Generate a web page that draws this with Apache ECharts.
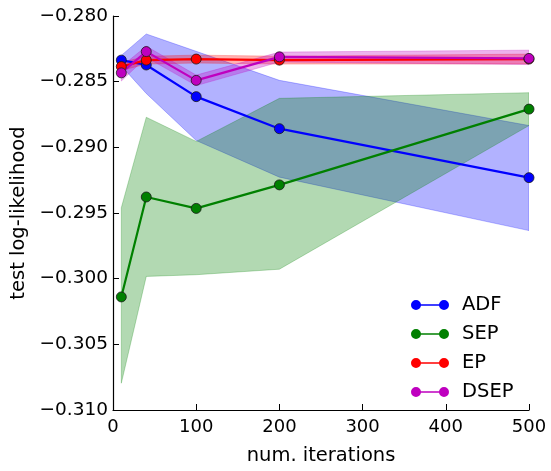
<!DOCTYPE html>
<html>
<head>
<meta charset="utf-8">
<script src="https://cdn.jsdelivr.net/npm/echarts@6/dist/echarts.min.js"></script>
<style>
html,body{margin:0;padding:0;background:#fff;}
#chart{width:551px;height:471px;}
</style>
</head>
<body>
<div id="chart"></div>
<script>
// ---- data ----
var iterations = [10, 40, 100, 200, 500];

var adfMean  = [-0.28336, -0.28373, -0.28614, -0.28858, -0.29231];
var adfUpper = [-0.28300, -0.28137, -0.28269, -0.28490, -0.28834];
var adfLower = [-0.28380, -0.28590, -0.28948, -0.29227, -0.29634];

var sepMean  = [-0.30139, -0.29378, -0.29465, -0.29286, -0.28709];
var sepUpper = [-0.29460, -0.28771, -0.28955, -0.28627, -0.28584];
var sepLower = [-0.30796, -0.29983, -0.29970, -0.29928, -0.28834];

var epMean   = [-0.28385, -0.28336, -0.28328, -0.28336, -0.28328];
var epUpper  = [-0.28355, -0.28306, -0.28298, -0.28306, -0.28290];
var epLower  = [-0.28415, -0.28366, -0.28358, -0.28366, -0.28365];

var dsepMean  = [-0.28433, -0.28271, -0.28490, -0.28311, -0.28323];
var dsepUpper = [-0.28385, -0.28230, -0.28450, -0.28275, -0.28260];
var dsepLower = [-0.28495, -0.28315, -0.28530, -0.28350, -0.28370];

var methodNames = ['ADF', 'SEP', 'EP', 'DSEP'];
var xTicks = [0, 100, 200, 300, 400, 500];
var yTicks = [-0.310, -0.305, -0.300, -0.295, -0.290, -0.285, -0.280];

// ---- styles ----
var FONT = 'DejaVu Sans';
var colors = ['#0000ff', '#008000', '#ff0000', '#bf00bf'];
var bandFill = ['rgba(0,0,255,0.3)', 'rgba(0,128,0,0.3)', 'rgba(255,0,0,0.3)', 'rgba(191,0,191,0.3)'];
var bandEdge = ['rgba(0,0,255,0.25)', 'rgba(0,128,0,0.25)', 'rgba(255,0,0,0.25)', 'rgba(191,0,191,0.25)'];

var means = [adfMean, sepMean, epMean, dsepMean];
var uppers = [adfUpper, sepUpper, epUpper, dsepUpper];
var lowers = [adfLower, sepLower, epLower, dsepLower];

function bandSeries(k) {
  var lo = lowers[k], hi = uppers[k];
  return {
    type: 'custom',
    name: methodNames[k] + ' band',
    silent: true,
    clip: true,
    z: 1,
    data: iterations.map(function (x, i) { return [x, lo[i], hi[i]]; }),
    encode: { x: 0, y: [1, 2] },
    renderItem: function (params, api) {
      if (params.dataIndex !== 0) return null;
      var top = iterations.map(function (x, i) { return api.coord([x, hi[i]]); });
      var bot = iterations.map(function (x, i) { return api.coord([x, lo[i]]); }).reverse();
      return {
        type: 'polygon',
        shape: { points: top.concat(bot) },
        style: { fill: bandFill[k], stroke: bandEdge[k], lineWidth: 1 }
      };
    }
  };
}

function lineSeries(k) {
  return {
    type: 'line',
    name: methodNames[k],
    z: 3,
    data: iterations.map(function (x, i) { return [x, means[k][i]]; }),
    symbol: 'circle',
    symbolSize: 10,
    showAllSymbol: true,
    lineStyle: { color: colors[k], width: 2.2 },
    itemStyle: { color: colors[k], borderColor: '#1a1a1a', borderWidth: 0.8, opacity: 1 },
    emphasis: { disabled: true }
  };
}

var series = [];
for (var k = 0; k < 4; k++) series.push(bandSeries(k));
for (var k2 = 0; k2 < 4; k2++) series.push(lineSeries(k2));

var legendIcon = 'path://M0,5A5,5 0 1,1 10,5A5,5 0 1,1 0,5Z M28,5A5,5 0 1,1 38,5A5,5 0 1,1 28,5Z M9,4.2H29V5.8H9Z';

var chart = echarts.init(document.getElementById('chart'), null, { renderer: 'canvas' });
chart.setOption({
  animation: false,
  backgroundColor: '#ffffff',
  textStyle: { fontFamily: FONT },
  grid: { left: 113, right: 22, top: 16, bottom: 53, containLabel: false },
  xAxis: {
    type: 'value',
    min: xTicks[0], max: xTicks[xTicks.length - 1], interval: 100,
    name: 'num. iterations',
    nameLocation: 'middle',
    nameGap: 36,
    nameTextStyle: { fontFamily: FONT, fontSize: 19.5, color: '#000' },
    axisLine: { show: true, onZero: false, lineStyle: { color: '#000', width: 1.2 } },
    axisTick: { show: true, inside: true, length: 6, lineStyle: { color: '#000', width: 1 } },
    axisLabel: { fontFamily: FONT, fontSize: 18, color: '#000', margin: 8 },
    splitLine: { show: false }
  },
  yAxis: {
    type: 'value',
    min: yTicks[0], max: yTicks[yTicks.length - 1], interval: 0.005,
    name: 'test log-likelihood',
    nameLocation: 'middle',
    nameGap: 82,
    nameTextStyle: { fontFamily: FONT, fontSize: 19.5, color: '#000' },
    axisLine: { show: true, onZero: false, lineStyle: { color: '#000', width: 1.2 } },
    axisTick: { show: true, inside: true, length: 6, lineStyle: { color: '#000', width: 1 } },
    axisLabel: {
      fontFamily: FONT, fontSize: 18.5, color: '#000', margin: 5,
      formatter: function (v) { return (v < 0 ? '\u2212' : '') + Math.abs(v).toFixed(3); }
    },
    splitLine: { show: false }
  },
  legend: {
    orient: 'vertical',
    left: 406,
    top: 290,
    itemWidth: 38,
    itemHeight: 10,
    itemGap: 9,
    icon: legendIcon,
    data: methodNames,
    itemStyle: { borderWidth: 0 },
    textStyle: { fontFamily: FONT, fontSize: 19.5, color: '#000', padding: [0, 0, 0, 8] },
    selectedMode: false
  },
  series: series
});
</script>
</body>
</html>
